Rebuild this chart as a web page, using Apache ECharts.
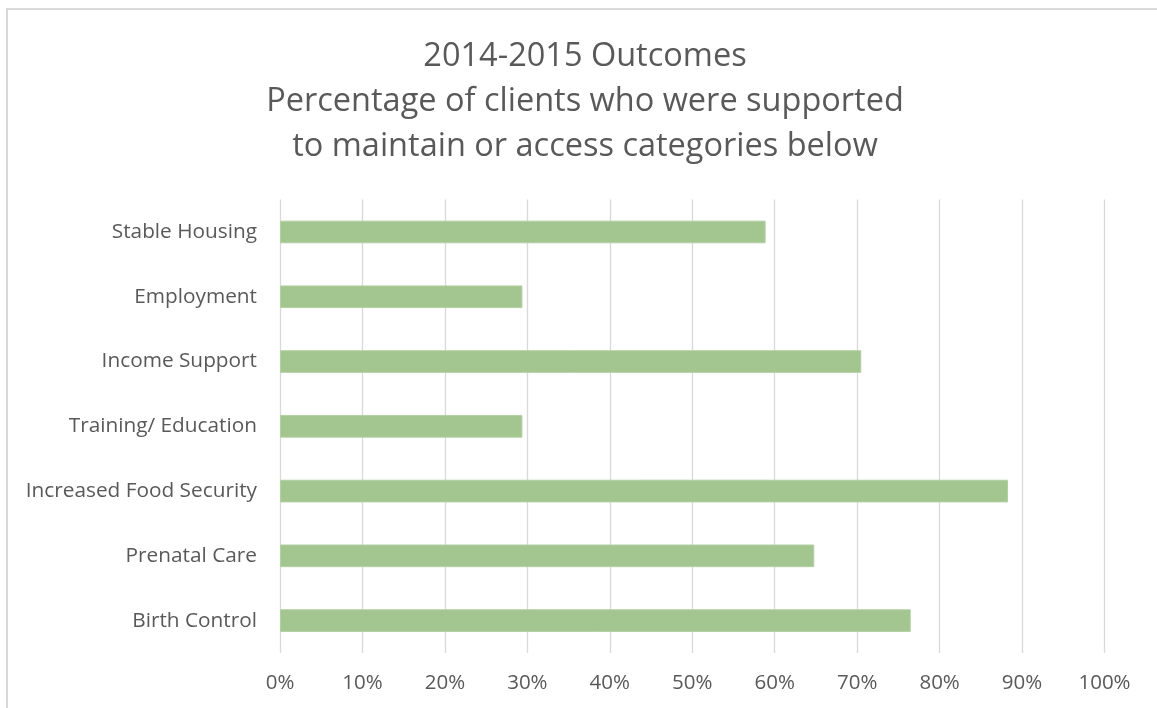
<!DOCTYPE html>
<html>
<head>
<meta charset="utf-8">
<script src="https://cdn.jsdelivr.net/npm/echarts@6/dist/echarts.min.js"></script>
<style>
html,body{margin:0;padding:0;background:#fff;}
#chart{width:1157px;height:708px;}
</style>
</head>
<body>
<div id="chart"></div>
<script>
var titleLines = ["2014-2015 Outcomes", "Percentage of clients who were supported", "to maintain or access categories below"];
var categories = ["Stable Housing", "Employment", "Income Support", "Training/ Education", "Increased Food Security", "Prenatal Care", "Birth Control"];
var values = [0.589, 0.294, 0.705, 0.294, 0.883, 0.648, 0.765];
var xTicks = { min: 0, max: 1, interval: 0.1 };

var chart = echarts.init(document.getElementById('chart'));
chart.setOption({
  backgroundColor: '#ffffff',
  animation: false,
  title: {
    text: titleLines.join('\n'),
    left: 580,
    textAlign: 'center',
    top: 29,
    textStyle: {
      fontFamily: 'Open Sans',
      fontSize: 32.5,
      fontWeight: 'normal',
      color: '#595959',
      lineHeight: 45
    }
  },
  graphic: [{
    type: 'rect',
    shape: { x: 7, y: 9, width: 1300, height: 900 },
    style: { fill: 'none', stroke: '#d9d9d9', lineWidth: 2 },
    silent: true
  }],
  grid: { left: 280, right: 52.5, top: 199.6, bottom: 55, containLabel: false },
  xAxis: {
    type: 'value',
    min: xTicks.min,
    max: xTicks.max,
    interval: xTicks.interval,
    axisLine: { show: false },
    axisTick: { show: false },
    splitLine: { show: true, lineStyle: { color: '#d9d9d9', width: 1.3 } },
    axisLabel: {
      margin: 20,
      fontFamily: 'Open Sans',
      fontSize: 20.5,
      color: '#595959',
      formatter: function (v) { return Math.round(v * 100) + '%'; }
    }
  },
  yAxis: {
    type: 'category',
    inverse: true,
    data: categories,
    axisLine: { show: false },
    axisTick: { show: false },
    axisLabel: {
      margin: 23,
      fontFamily: 'Open Sans',
      fontSize: 20.8,
      color: '#595959'
    }
  },
  series: [{
    type: 'bar',
    data: values,
    barWidth: '35%',
    itemStyle: { color: '#a3c58f', borderColor: '#b3d0a3', borderWidth: 1 }
  }]
});
</script>
</body>
</html>
